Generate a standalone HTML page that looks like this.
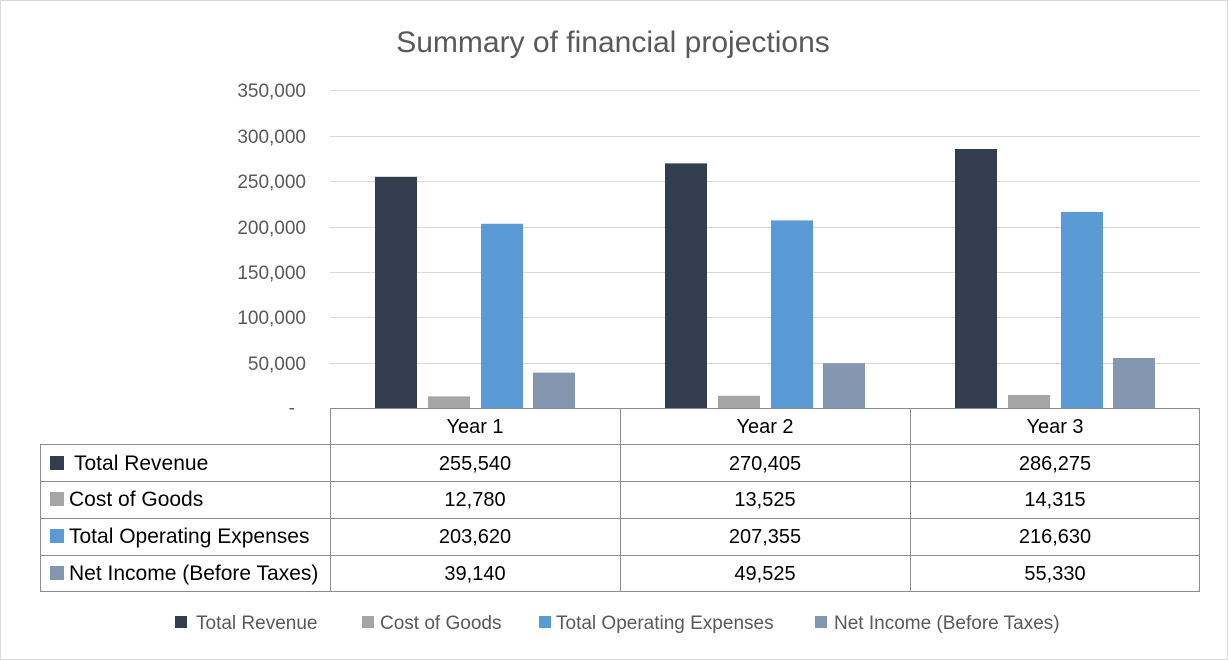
<!DOCTYPE html>
<html><head><style>
body{margin:0;background:#fff;}
svg{display:block;font-family:"Liberation Sans",Calibri,sans-serif;}
</style></head><body>
<svg width="1228" height="660" viewBox="0 0 1228 660" xmlns="http://www.w3.org/2000/svg">
<rect x="0.5" y="0.5" width="1227" height="659" fill="#fff" stroke="#d9d9d9"/>
<text x="613" y="52" text-anchor="middle" font-size="30" fill="#595959">Summary of financial projections</text>
<g stroke="#d9d9d9" stroke-width="1">
<line x1="330" x2="1200" y1="90.5" y2="90.5"/>
<line x1="330" x2="1200" y1="136.5" y2="136.5"/>
<line x1="330" x2="1200" y1="181.5" y2="181.5"/>
<line x1="330" x2="1200" y1="227.5" y2="227.5"/>
<line x1="330" x2="1200" y1="272.5" y2="272.5"/>
<line x1="330" x2="1200" y1="317.5" y2="317.5"/>
<line x1="330" x2="1200" y1="363.5" y2="363.5"/>
</g>
<g font-size="19" fill="#595959" text-anchor="end">
<text x="306" y="97">350,000</text>
<text x="306" y="143">300,000</text>
<text x="306" y="188">250,000</text>
<text x="306" y="234">200,000</text>
<text x="306" y="279">150,000</text>
<text x="306" y="324">100,000</text>
<text x="306" y="370">50,000</text>
<text x="295" y="414">-</text>
</g>
<g>
<rect x="375" y="176.8" width="42" height="231.2" fill="#323d4f"/>
<rect x="428" y="396.4" width="42" height="11.6" fill="#a5a5a5"/>
<rect x="481" y="223.8" width="42" height="184.2" fill="#5b9bd5"/>
<rect x="533" y="372.6" width="42" height="35.4" fill="#8497b0"/>
<rect x="665" y="163.4" width="42" height="244.6" fill="#323d4f"/>
<rect x="718" y="395.8" width="42" height="12.2" fill="#a5a5a5"/>
<rect x="771" y="220.4" width="42" height="187.6" fill="#5b9bd5"/>
<rect x="823" y="363.2" width="42" height="44.8" fill="#8497b0"/>
<rect x="955" y="149.0" width="42" height="259.0" fill="#323d4f"/>
<rect x="1008" y="395.0" width="42" height="13.0" fill="#a5a5a5"/>
<rect x="1061" y="212.0" width="42" height="196.0" fill="#5b9bd5"/>
<rect x="1113" y="358.0" width="42" height="50.0" fill="#8497b0"/>
</g>
<g stroke="#8c8c8c" stroke-width="1" fill="none">
<line x1="330.5" y1="408" x2="330.5" y2="591"/>
<line x1="620.5" y1="408" x2="620.5" y2="591"/>
<line x1="910.5" y1="408" x2="910.5" y2="591"/>
<line x1="1199.5" y1="408" x2="1199.5" y2="591"/>
<line x1="330" y1="408.5" x2="1200" y2="408.5"/>
<line x1="40.5" y1="444" x2="40.5" y2="591"/>
<line x1="40" y1="444.5" x2="1200" y2="444.5"/>
<line x1="40" y1="481.5" x2="1200" y2="481.5"/>
<line x1="40" y1="518.5" x2="1200" y2="518.5"/>
<line x1="40" y1="555.5" x2="1200" y2="555.5"/>
<line x1="40" y1="591.5" x2="1200" y2="591.5"/>
</g>
<g font-size="20" fill="#000" text-anchor="middle">
<text x="475" y="433">Year 1</text><text x="765" y="433">Year 2</text><text x="1055" y="433">Year 3</text>
<text x="475" y="470">255,540</text><text x="765" y="470">270,405</text><text x="1055" y="470">286,275</text>
<text x="475" y="506">12,780</text><text x="765" y="506">13,525</text><text x="1055" y="506">14,315</text>
<text x="475" y="543">203,620</text><text x="765" y="543">207,355</text><text x="1055" y="543">216,630</text>
<text x="475" y="580">39,140</text><text x="765" y="580">49,525</text><text x="1055" y="580">55,330</text>
</g>
<g font-size="21" fill="#000">
<rect x="50" y="456" width="14" height="14" fill="#323d4f"/><text x="74" y="470">Total Revenue</text>
<rect x="50" y="492" width="14" height="14" fill="#a5a5a5"/><text x="69" y="506">Cost of Goods</text>
<rect x="50" y="529" width="14" height="14" fill="#5b9bd5"/><text x="69" y="543">Total Operating Expenses</text>
<rect x="50" y="566" width="14" height="14" fill="#8497b0"/><text x="69" y="580">Net Income (Before Taxes)</text>
</g>
<g font-size="19" fill="#595959">
<rect x="175" y="616" width="12" height="12" fill="#323d4f"/><text x="196" y="629">Total Revenue</text>
<rect x="362" y="616" width="12" height="12" fill="#a5a5a5"/><text x="380" y="629">Cost of Goods</text>
<rect x="539" y="616" width="12" height="12" fill="#5b9bd5"/><text x="556" y="629">Total Operating Expenses</text>
<rect x="815" y="616" width="12" height="12" fill="#8497b0"/><text x="834" y="629">Net Income (Before Taxes)</text>
</g>
</svg>
</body></html>
